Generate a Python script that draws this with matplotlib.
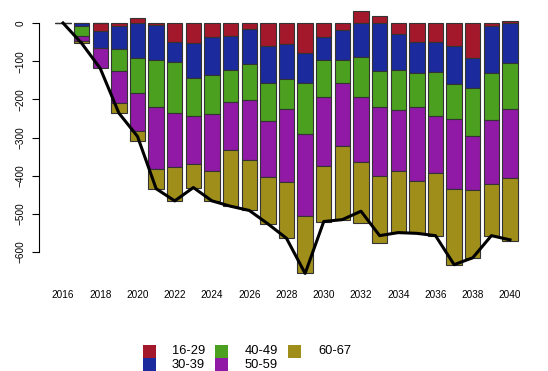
import numpy as np
import matplotlib
matplotlib.use('Agg')
from matplotlib import pyplot as plt
from matplotlib.patches import Rectangle

plt.rcParams['font.family'] = ['Liberation Sans', 'DejaVu Sans']

years = np.arange(2016, 2041)
groups = ['16-29', '30-39', '40-49', '50-59', '60-67']
colors = ['#A3192B', '#1B2A9C', '#4CA01F', '#9019A5', '#A08E1B']

age_16_29 = [0, 0, -21, -8, 12, -5, -51, -53, -36, -34, -15, -59, -56, -79, -36,
             -18, 31, 19, -29, -50, -51, -59, -93, -8, 4]
age_30_39 = [0, -9, -44, -61, -93, -92, -50, -92, -99, -89, -92, -99, -92, -77, -61,
             -78, -88, -126, -94, -82, -77, -101, -78, -124, -104]
age_40_49 = [0, -25, 0, -56, -91, -124, -136, -98, -103, -85, -94, -98, -76, -135, -98,
             -61, -106, -95, -105, -87, -116, -92, -126, -122, -122]
age_50_59 = [0, -12, -54, -84, -100, -162, -140, -126, -151, -125, -159, -148, -192, -215, -179,
             -164, -170, -181, -161, -194, -148, -182, -141, -167, -180]
age_60_67 = [0, -7, 0, -27, -25, -51, -89, -62, -77, -147, -131, -122, -148, -150, -146,
             -194, -160, -174, -160, -138, -165, -199, -177, -136, -166]

series = [age_16_29, age_30_39, age_40_49, age_50_59, age_60_67]

W, H = 548, 371
fig = plt.figure(figsize=(W / 100, H / 100), dpi=100)

# axes placed in pixel coordinates
left_px, right_px = 38.5, 540
top_px, bot_px = 5.8, 282.6
ax = fig.add_axes([left_px / W, 1 - bot_px / H, (right_px - left_px) / W, (bot_px - top_px) / H])

px_per_year = 18.625
ax.set_xlim(2016 - (63 - left_px) / px_per_year, 2016 + (right_px - 63) / px_per_year)
ax.set_ylim(-680, 45)

# positives stack up from 0, negatives stack down from 0
pos_base = np.zeros(len(years))
neg_base = np.zeros(len(years))
for vals, col in zip(series, colors):
    v = np.array(vals, dtype=float)
    bottom = np.where(v >= 0, pos_base, neg_base)
    ax.bar(years, v, bottom=bottom, width=0.83, color=col, edgecolor='#333333', linewidth=0.8)
    pos_base = pos_base + np.where(v >= 0, v, 0)
    neg_base = neg_base + np.where(v < 0, v, 0)

total = np.sum(np.array(series), axis=0)
ax.plot(years, total, color='black', linewidth=2.2)

for s in ['top', 'right', 'bottom']:
    ax.spines[s].set_visible(False)
ax.spines['left'].set_bounds(-600, 0)
ax.spines['left'].set_linewidth(0.8)

ax.set_yticks(np.arange(-600, 1, 100))
ax.tick_params(axis='y', length=5.4, width=0.8, pad=4, labelsize=7.2)
for t in ax.get_yticklabels():
    t.set_rotation(90)
    t.set_va('center')

ax.set_xticks(years[::2])
ax.set_xticklabels([str(y) for y in years[::2]])
ax.tick_params(axis='x', length=0, pad=5.5, labelsize=7.2)

# legend below the plot, column-major like the original
sq_x = [143, 215, 288]
txt_x = [172, 245, 318]
row_y = [351.5, 364.5]
for i, (lab, col) in enumerate(zip(groups, colors)):
    c, r = divmod(i, 2)
    fig.add_artist(Rectangle((sq_x[c] / W, 1 - (row_y[r] + 6.5) / H), 13 / W, 13 / H,
                             transform=fig.transFigure, facecolor=col, edgecolor='none'))
    fig.text(txt_x[c] / W, 1 - row_y[r] / H, lab, fontsize=9.3, va='center', ha='left')

fig.savefig('out.png', dpi=100)
